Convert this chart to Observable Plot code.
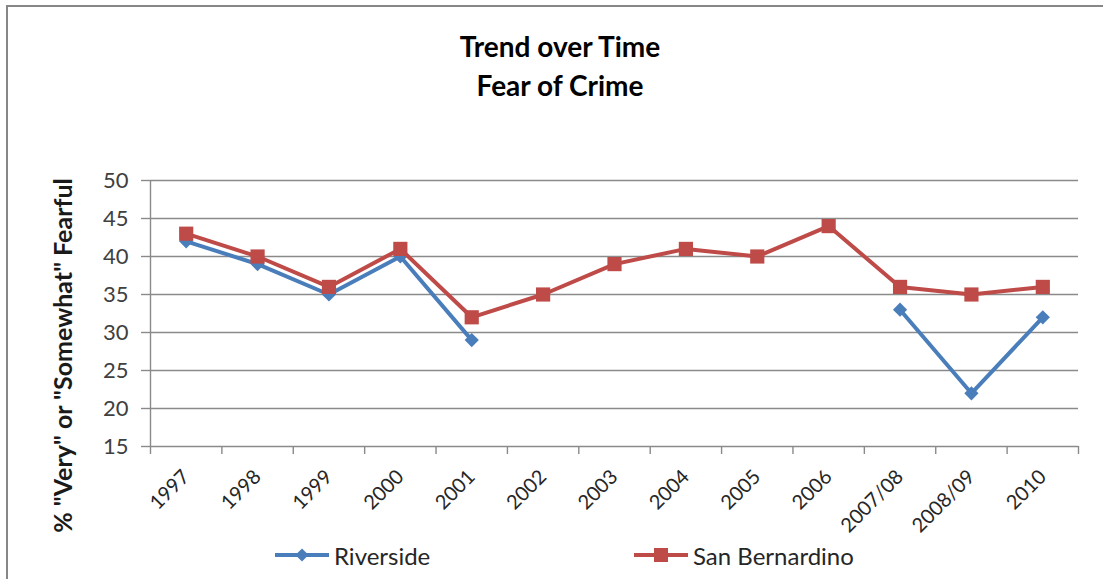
<!DOCTYPE html>
<html>
<head>
<meta charset="utf-8">
<script src="https://cdn.jsdelivr.net/npm/d3@7"></script>
<script src="https://cdn.jsdelivr.net/npm/@observablehq/plot@0.6"></script>
<style>
  body { margin: 0; background: #fff; font-family: Lato, "Open Sans", sans-serif; }
  #chart { position: relative; width: 1103px; height: 579px; overflow: hidden; background: #fff; }
  #frame { position: absolute; left: 6px; top: 5px; width: 1130px; height: 620px; border: 2px solid #878787; box-sizing: border-box; }
  #title { position: absolute; left: 0; top: 27px; width: 1120px; text-align: center; font-weight: 700; font-size: 28px; line-height: 39px; color: #000; }
  #plot { position: absolute; left: 0; top: 140px; }
  #legend { position: absolute; left: 0; top: 540px; width: 1103px; height: 30px; }
  .item { position: absolute; top: 0; height: 30px; display: flex; align-items: center; font-size: 24px; color: #262626; }
  .item svg { margin-right: 5px; }
</style>
</head>
<body>
<div id="chart">
  <div id="frame"></div>
  <div id="title">Trend over Time<br>Fear of Crime</div>
  <div id="plot"></div>
  <div id="legend"></div>
</div>
<script>
// Survey years (two combined waves appear as 2007/08 and 2008/09)
const categories = ["1997", "1998", "1999", "2000", "2001", "2002", "2003", "2004", "2005", "2006", "2007/08", "2008/09", "2010"];
// Percent "very" or "somewhat" fearful of crime; Riverside was not surveyed 2002–2006
const riverside = [42, 39, 35, 40, 29, null, null, null, null, null, 33, 22, 32];
const sanBernardino = [43, 40, 36, 41, 32, 35, 39, 41, 40, 44, 36, 35, 36];
const yTicks = [15, 20, 25, 30, 35, 40, 45, 50];
const seriesNames = ["Riverside", "San Bernardino"];
const seriesColors = ["#4A7EBB", "#BE4B48"];
const seriesSymbols = ["diamond2", "square"];
const yLabel = '% "Very" or "Somewhat" Fearful';

const toRows = (name, values) => values.map((value, i) => ({series: name, i, value}));
const riversideRows = toRows(seriesNames[0], riverside);
const sanBernardinoRows = toRows(seriesNames[1], sanBernardino);

const gridColor = "#8a8a8a";
const n = categories.length;

const chart = Plot.plot({
  width: 1103,
  height: 400,
  marginLeft: 150,
  marginRight: 25,
  marginTop: 40,
  marginBottom: 94,
  style: {fontFamily: "Lato, 'Open Sans', sans-serif", background: "transparent"},
  x: {type: "linear", domain: [-0.5, n - 0.5], axis: null},
  y: {domain: [15, 50], axis: null},
  marks: [
    Plot.gridY(yTicks.filter(t => t > 15), {stroke: gridColor, strokeOpacity: 1, strokeWidth: 1.4}),
    Plot.ruleY([15], {stroke: gridColor, strokeWidth: 1.4}),
    Plot.ruleX([-0.5], {stroke: gridColor, strokeWidth: 1.4}),
    Plot.axisY({ticks: yTicks, tickSize: 9, tickPadding: 13, fontSize: 22, stroke: gridColor, strokeWidth: 1.4, fill: "#404040", label: null}),
    // tick marks sit on the category boundaries
    Plot.axisX({ticks: d3.range(n + 1).map(k => k - 0.5), tickSize: 8, tickFormat: () => "", stroke: gridColor, strokeWidth: 1.4, label: null}),
    // category names at the band centres
    Plot.axisX({ticks: d3.range(n), tickSize: 0, tickPadding: 27, tickRotate: -45, tickFormat: i => categories[i], fontSize: 20, fill: "#262626", label: null}),
    Plot.line(riversideRows, {x: "i", y: "value", stroke: seriesColors[0], strokeWidth: 4}),
    Plot.dot(riversideRows, {x: "i", y: "value", symbol: seriesSymbols[0], r: 6.4, fill: seriesColors[0], stroke: "none"}),
    Plot.line(sanBernardinoRows, {x: "i", y: "value", stroke: seriesColors[1], strokeWidth: 4}),
    Plot.dot(sanBernardinoRows, {x: "i", y: "value", symbol: seriesSymbols[1], r: 8, fill: seriesColors[1], stroke: "none"}),
    Plot.text([yLabel], {text: d => d, frameAnchor: "left", textAnchor: "middle", rotate: -90, dx: -87, dy: 42, fontSize: 25, fontWeight: "bold", fill: "#1a1a1a"})
  ]
});
document.getElementById("plot").append(chart);

// Legend: line-with-marker swatches followed by series names
const legend = document.getElementById("legend");
const legendLeft = [275, 634];
seriesNames.forEach((name, k) => {
  const item = document.createElement("div");
  item.className = "item";
  item.style.left = legendLeft[k] + "px";
  const swatch = d3.create("svg").attr("width", 54).attr("height", 20);
  swatch.append("line").attr("x1", 0).attr("x2", 54).attr("y1", 10).attr("y2", 10)
    .attr("stroke", seriesColors[k]).attr("stroke-width", 4);
  const sym = seriesSymbols[k] === "square" ? d3.symbolSquare : d3.symbolDiamond2;
  const size = seriesSymbols[k] === "square" ? 196 : 110;
  swatch.append("path").attr("transform", "translate(27,10)")
    .attr("d", d3.symbol(sym, size)()).attr("fill", seriesColors[k]);
  item.append(swatch.node());
  const label = document.createElement("span");
  label.textContent = name;
  item.append(label);
  legend.append(item);
});
</script>
</body>
</html>
